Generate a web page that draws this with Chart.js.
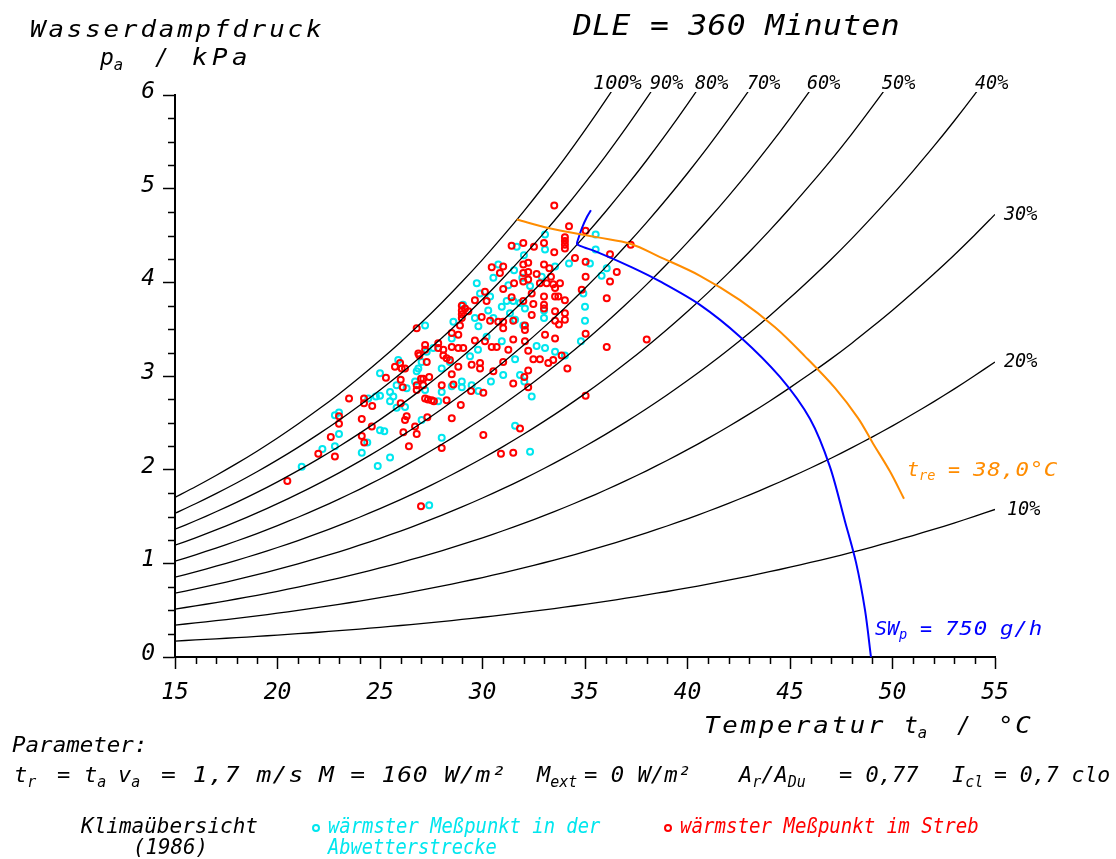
<!DOCTYPE html>
<html>
<head>
<meta charset="utf-8">
<title>DLE = 360 Minuten</title>
<script src="https://cdn.jsdelivr.net/npm/chart.js@4.4.1/dist/chart.umd.min.js"></script>
<style>
  html, body { margin: 0; padding: 0; background: #fff; }
  #wrap { position: relative; width: 1116px; height: 859px; overflow: hidden; background: #fff; }
  #chart { position: absolute; left: 0; top: 0; }
  .t { position: absolute; white-space: pre; font-family: "DejaVu Sans Mono", monospace; font-style: italic;
       line-height: 1; color: #000; transform-origin: 0 0; }
  .t sub { font-size: 0.68em; vertical-align: -0.32em; line-height: 0; }
  .mk { position: absolute; width: 4px; height: 4px; border-radius: 50%; border: 2px solid; background: #fff; }
</style>
</head>
<body>
<div id="wrap"><canvas id="chart" width="1116" height="859"></canvas></div>
<script>
// Relative humidity levels of the isolines (%)
const rhLevels = [10, 20, 30, 40, 50, 60, 70, 80, 90, 100];

// Saturation vapour pressure of water (kPa) over the temperature range (°C)
const satTemp = [15, 16, 17, 18, 19, 20, 21, 22, 23, 24, 25, 26, 27, 28, 29, 30, 31, 32, 33, 34, 35,
                 36, 37, 38, 39, 40, 41, 42, 43, 44, 45, 46, 47, 48, 49, 50, 51, 52, 53, 54, 55];
const satPressure = [1.705, 1.818, 1.938, 2.064, 2.197, 2.338, 2.487, 2.644, 2.809, 2.984, 3.168,
                     3.361, 3.565, 3.780, 4.006, 4.243, 4.493, 4.755, 5.031, 5.320, 5.624,
                     5.942, 6.276, 6.626, 6.993, 7.378, 7.780, 8.202, 8.642, 9.103, 9.586,
                     10.09, 10.61, 11.16, 11.74, 12.34, 12.97, 13.62, 14.30, 15.01, 15.75];

// Wärmster Meßpunkt in der Abwetterstrecke
const cyanTemp = [27.20, 28.58, 29.05, 28.50, 27.60, 27.28, 25.89, 25.00, 26.79, 26.87, 27.03, 26.71,
                  25.81, 26.30, 27.20, 28.01, 28.41, 28.01, 28.50, 28.99, 28.99, 27.84, 24.43, 24.80,
                  25.00, 25.49, 25.49, 25.65, 25.81, 26.22, 22.80, 23.00, 23.00, 25.00, 25.21, 24.38,
                  27.03, 28.01, 22.80, 22.19, 24.11, 25.49, 24.89, 21.18, 27.40, 35.52, 33.05, 31.67,
                  33.05, 32.02, 35.52, 34.22, 35.24, 35.81, 36.06, 30.53, 30.77, 31.54, 31.94, 33.54,
                  32.89, 32.32, 31.26, 29.72, 29.88, 34.92, 30.37, 31.18, 31.50, 31.83, 32.07, 30.94,
                  35.00, 33.00, 29.63, 29.80, 30.28, 30.53, 31.34, 31.59, 31.99, 33.00, 35.00, 32.64,
                  33.05, 33.54, 30.94, 30.20, 34.80, 30.41, 31.01, 31.83, 32.04, 32.40, 34.02, 31.59,
                  29.47, 29.80, 31.59, 32.32, 29.78, 29.39];
const cyanPressure = [3.54, 3.58, 3.76, 3.40, 3.30, 3.26, 3.17, 3.03, 3.05, 3.08, 3.15, 2.94,
                      2.90, 2.87, 2.85, 3.08, 3.15, 2.83, 2.89, 2.94, 2.88, 2.73, 2.76, 2.78,
                      2.79, 2.83, 2.73, 2.78, 2.66, 2.67, 2.58, 2.61, 2.38, 2.42, 2.41, 2.29,
                      2.53, 2.34, 2.25, 2.22, 2.18, 2.13, 2.04, 2.03, 1.62, 4.51, 4.51, 4.38,
                      4.35, 4.29, 4.35, 4.20, 4.20, 4.07, 4.15, 4.05, 4.19, 4.13, 4.05, 4.17,
                      4.06, 3.96, 3.97, 3.99, 3.88, 3.88, 3.85, 3.80, 3.80, 3.78, 3.72, 3.74,
                      3.74, 3.70, 3.62, 3.53, 3.70, 3.62, 3.67, 3.60, 3.54, 3.62, 3.59, 3.32,
                      3.30, 3.26, 3.37, 3.42, 3.37, 2.94, 3.01, 3.01, 2.94, 2.78, 3.22, 3.18,
                      2.90, 2.84, 2.47, 2.19, 3.28, 3.21];

// Wärmster Meßpunkt im Streb
const redTemp = [26.79, 28.90, 28.99, 28.99, 28.99, 28.99, 28.50, 28.82, 27.20, 27.20, 27.84, 27.84,
                 28.09, 28.50, 28.82, 29.06, 26.87, 25.98, 26.06, 26.22, 25.73, 25.29, 26.01, 26.92,
                 27.28, 27.00, 27.11, 26.79, 27.11, 26.79, 27.40, 26.11, 28.01, 28.58, 28.50, 28.09,
                 28.25, 28.41, 28.82, 27.20, 27.34, 27.52, 27.63, 28.25, 28.94, 23.49, 24.22, 24.22,
                 24.62, 26.01, 23.00, 23.00, 24.11, 22.60, 24.11, 24.60, 24.23, 26.30, 26.22, 26.14,
                 26.71, 26.79, 27.31, 28.50, 28.01, 26.41, 21.99, 22.80, 20.48, 27.00, 33.50, 34.22,
                 35.03, 37.23, 34.02, 34.02, 34.02, 34.02, 31.42, 31.99, 32.51, 33.00, 33.50, 36.22,
                 34.51, 35.03, 36.55, 36.22, 35.03, 30.45, 31.01, 30.85, 31.99, 32.23, 31.99, 32.23,
                 31.99, 32.23, 33.00, 32.64, 33.26, 33.34, 32.80, 33.13, 33.45, 33.78, 33.54, 31.54,
                 30.12, 30.20, 31.01, 34.84, 33.00, 33.54, 33.70, 34.02, 32.40, 31.42, 31.99, 32.48,
                 36.06, 33.00, 33.00, 33.54, 34.02, 34.02, 29.63, 29.15, 29.31, 29.96, 30.37, 30.77,
                 31.01, 31.01, 31.50, 32.07, 32.07, 32.40, 33.54, 33.73, 31.50, 32.07, 33.05, 33.54,
                 32.23, 31.26, 30.69, 30.45, 30.12, 29.63, 35.03, 36.06, 38.01, 31.01, 30.53, 32.23,
                 32.04, 31.50, 32.23, 34.14, 35.03, 32.48, 32.80, 33.21, 33.45, 33.86, 29.47, 29.88,
                 29.88, 29.44, 30.04, 30.04, 31.83, 30.90, 31.50];
const redPressure = [3.51, 3.54, 3.75, 3.70, 3.66, 3.62, 3.46, 3.44, 3.33, 3.28, 3.35, 3.30,
                     3.28, 3.31, 3.30, 3.30, 3.24, 3.14, 3.08, 3.08, 3.10, 2.98, 2.96, 3.22,
                     3.15, 2.97, 2.97, 2.90, 2.90, 2.85, 2.99, 2.88, 2.90, 2.91, 3.02, 3.22,
                     3.19, 3.17, 3.10, 2.76, 2.75, 2.74, 2.73, 2.74, 2.69, 2.76, 2.76, 2.71,
                     2.68, 2.71, 2.57, 2.49, 2.54, 2.35, 2.36, 2.46, 2.29, 2.57, 2.53, 2.40,
                     2.46, 2.38, 2.56, 2.55, 2.23, 2.25, 2.17, 2.14, 1.88, 1.61, 4.82, 4.60,
                     4.55, 4.40, 4.48, 4.44, 4.40, 4.36, 4.39, 4.42, 4.38, 4.42, 4.32, 4.30,
                     4.26, 4.22, 4.11, 4.01, 4.06, 4.16, 4.17, 4.10, 4.19, 4.21, 4.10, 4.11,
                     4.01, 4.03, 4.19, 4.09, 4.15, 4.06, 3.99, 3.99, 3.98, 3.99, 3.94, 3.99,
                     3.90, 3.80, 3.93, 3.92, 3.85, 3.85, 3.85, 3.81, 3.88, 3.84, 3.80, 3.77,
                     3.83, 3.76, 3.72, 3.69, 3.67, 3.60, 3.81, 3.72, 3.69, 3.63, 3.59, 3.58,
                     3.58, 3.51, 3.59, 3.54, 3.49, 3.65, 3.59, 3.55, 3.39, 3.37, 3.44, 3.40,
                     3.27, 3.28, 3.31, 3.31, 3.37, 3.38, 3.45, 3.31, 3.39, 3.15, 3.05, 3.06,
                     2.99, 2.92, 2.88, 3.08, 2.79, 3.18, 3.18, 3.14, 3.17, 3.22, 3.12, 3.14,
                     3.08, 2.84, 2.82, 2.37, 2.44, 2.17, 2.18];

// Isoline of rectal temperature t_re = 38,0 °C
const treTemp = [31.67, 33.20, 35.63, 37.24, 38.66, 40.61, 42.56, 44.27, 45.73, 47.20, 48.32, 49.05, 49.88, 50.56];
const trePressure = [4.67, 4.58, 4.48, 4.41, 4.27, 4.07, 3.81, 3.52, 3.21, 2.87, 2.55, 2.28, 1.98, 1.69];

// Isoline of sweat rate SW_p = 750 g/h
const swTemp = [35.29, 35.10, 34.85, 34.68, 34.61, 34.76, 35.63, 37.29, 38.66, 40.61, 42.56, 44.51,
                45.98, 46.95, 47.68, 48.22, 48.66, 48.95];
const swPressure = [4.77, 4.70, 4.58, 4.47, 4.41, 4.39, 4.32, 4.16, 4.01, 3.76, 3.42, 2.99,
                    2.54, 2.03, 1.45, 1.01, 0.50, 0.00];

const CYAN = '#00e6ee', RED = '#ff0000', ORANGE = '#ff8c00', BLUE = '#0000ff';
const FONT = '"DejaVu Sans Mono", monospace';

const pairs = (xs, ys) => xs.map((x, i) => ({ x: x, y: ys[i] }));

const humidityLines = rhLevels.map(rh => ({
  label: rh + '%',
  data: satTemp.map((t, i) => ({ x: t, y: rh / 100 * satPressure[i] })),
  showLine: true, borderColor: '#000', borderWidth: 1.3, pointRadius: 0,
  tension: 0.25, clip: { left: 0, top: 3, right: 0, bottom: 0 }, order: 2
}));

// short minor ticks on both axes
const minorTicks = {
  id: 'minorTicks',
  afterDraw(chart) {
    const { ctx, scales: { x, y } } = chart;
    ctx.save();
    ctx.strokeStyle = '#000';
    ctx.lineWidth = 1.5;
    ctx.beginPath();
    for (let v = 16; v < 55; v++) {
      if (v % 5 === 0) continue;
      const px = Math.round(x.getPixelForValue(v)) + 0.5;
      ctx.moveTo(px, y.bottom); ctx.lineTo(px, y.bottom + 7);
    }
    for (let k = 1; k < 24; k++) {
      if (k % 4 === 0) continue;
      const py = Math.round(y.getPixelForValue(k / 4)) + 0.5;
      ctx.moveTo(x.left, py); ctx.lineTo(x.left - 7, py);
    }
    ctx.stroke();
    ctx.restore();
  }
};

new Chart(document.getElementById('chart'), {
  type: 'scatter',
  data: {
    datasets: [
      { label: 'wärmster Meßpunkt in der Abwetterstrecke', data: pairs(cyanTemp, cyanPressure),
        pointRadius: 3, borderWidth: 2, borderColor: CYAN, backgroundColor: 'rgba(0,0,0,0)', order: 4 },
      { label: 'wärmster Meßpunkt im Streb', data: pairs(redTemp, redPressure),
        pointRadius: 3, borderWidth: 2, borderColor: RED, backgroundColor: 'rgba(0,0,0,0)', order: 3 },
      ...humidityLines,
      { label: 't_re = 38,0 °C', data: pairs(treTemp, trePressure), showLine: true, pointRadius: 0,
        borderColor: ORANGE, borderWidth: 2, tension: 0.35, order: 1 },
      { label: 'SW_p = 750 g/h', data: pairs(swTemp, swPressure), showLine: true, pointRadius: 0,
        borderColor: BLUE, borderWidth: 2, tension: 0.3, order: 1 }
    ]
  },
  options: {
    responsive: false,
    animation: false,
    devicePixelRatio: 1,
    layout: { padding: { left: 0, top: 95, right: 121, bottom: 0 } },
    plugins: { legend: { display: false }, tooltip: { enabled: false } },
    scales: {
      x: {
        type: 'linear', min: 15, max: 55,
        afterFit(s) { s.height = 202; },
        ticks: { stepSize: 5, color: '#000', padding: 10, maxRotation: 0, autoSkip: false,
                 font: { family: FONT, size: 23, style: 'italic' } },
        grid: { drawOnChartArea: false, drawTicks: true, tickLength: 12, tickColor: '#000', tickWidth: 1.5 },
        border: { display: true, color: '#000', width: 2 }
      },
      y: {
        type: 'linear', min: 0, max: 6,
        afterFit(s) { s.width = 175; },
        ticks: { stepSize: 1, color: '#000', padding: 8, labelOffset: -3,
                 font: { family: FONT, size: 23, style: 'italic' } },
        grid: { drawOnChartArea: false, drawTicks: true, tickLength: 12, tickColor: '#000', tickWidth: 1.5 },
        border: { display: true, color: '#000', width: 2 }
      }
    }
  },
  plugins: [minorTicks]
});

// text placed around the plot; glyphs may be widened a little, then spaced to the given width
const wrap = document.getElementById('wrap');
function put(html, left, baseline, size, color, width, sx) {
  let k = 1;
  const el = document.createElement('div');
  el.className = 't';
  el.innerHTML = html;
  el.style.fontSize = size + 'px';
  el.style.left = left + 'px';
  el.style.top = (baseline - 0.846 * size) + 'px';
  el.style.color = color || '#000';
  wrap.appendChild(el);
  if (width) {
    const n = el.textContent.length;
    const w = el.offsetWidth;
    k = Math.min(sx || 1.12, width / w);
    if (n > 1) el.style.letterSpacing = ((width / k - w) / (n - 1)) + 'px';
  }
  el.style.transform = 'scaleX(' + k + ')';
  return el;
}
function marker(cx, cy, color) {
  const m = document.createElement('div');
  m.className = 'mk';
  m.style.left = (cx - 4) + 'px';
  m.style.top = (cy - 4) + 'px';
  m.style.borderColor = color;
  wrap.appendChild(m);
}

put('Wasserdampfdruck', 30, 37, 23, '#000', 292);
put('p<sub>a</sub>', 100, 65, 23);
put('/', 155, 65, 23);
put('kPa', 192, 65, 23, '#000', 56);
put('DLE = 360 Minuten', 573, 36, 28, '#000', 327);

// isoline labels
put('100%', 593, 89, 19, '#000', 49);
put('90%', 650, 89, 19, '#000', 33);
put('80%', 695, 89, 19, '#000', 33);
put('70%', 747, 89, 19, '#000', 33);
put('60%', 807, 89, 19, '#000', 33);
put('50%', 882, 89, 19, '#000', 33);
put('40%', 975, 89, 19, '#000', 33);
put('30%', 1004, 220, 19, '#000', 33);
put('20%', 1004, 367, 19, '#000', 33);
put('10%', 1007, 515, 19, '#000', 33);

put('t<sub>re</sub>', 907, 476, 20, ORANGE);
put('=', 948, 476, 20, ORANGE);
put('38,0°C', 973, 476, 20, ORANGE, 84);
put('SW<sub>p</sub>', 875, 635, 20, BLUE);
put('=', 920, 635, 20, BLUE);
put('750', 945, 635, 20, BLUE, 42);
put('g/h', 1000, 635, 20, BLUE, 42);

// x axis title
put('Temperatur', 704, 733, 23, '#000', 179);
put('t<sub>a</sub>', 904, 733, 23);
put('/', 957, 733, 23);
put('°C', 998, 733, 23, '#000', 33);

// parameter block
put('Parameter:', 12, 753, 22, '#000', 135);
put('t<sub>r</sub>', 14, 783, 22);
put('=', 57, 783, 22);
put('t<sub>a</sub>', 84, 783, 22);
put('v<sub>a</sub>', 118, 783, 22);
put('= 1,7 m/s', 161, 783, 22, '#000', 142);
put('M = 160 W/m²', 319, 783, 22, '#000', 187);
put('M<sub>ext</sub>', 537, 783, 22);
put('= 0 W/m²', 584, 783, 22, '#000', 107);
put('A<sub>r</sub>/A<sub>Du</sub>', 739, 783, 22);
put('= 0,77', 839, 783, 22, '#000', 79);
put('I<sub>cl</sub>', 952, 783, 22);
put('= 0,7 clo', 994, 783, 22, '#000', 116);

// legend
put('Klimaübersicht', 81, 834, 21, '#000', 177);
put('(1986)', 133, 855, 21, '#000', 75);
marker(316, 828, CYAN);
put('wärmster Meßpunkt in der', 328, 834, 21, CYAN, 272);
put('Abwetterstrecke', 328, 855, 21, CYAN, 169);
marker(668, 828, RED);
put('wärmster Meßpunkt im Streb', 680, 834, 21, RED, 299);
</script>
</body>
</html>
